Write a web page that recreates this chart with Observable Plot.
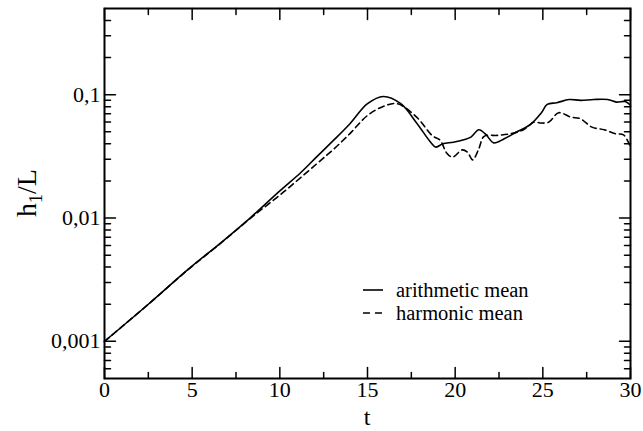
<!DOCTYPE html>
<html><head><meta charset="utf-8">
<script src="https://cdn.jsdelivr.net/npm/d3@7"></script>
<script src="https://cdn.jsdelivr.net/npm/@observablehq/plot@0.6"></script>
<style>body{margin:0;background:#fff} svg text{font-family:"Liberation Serif","Times New Roman",Tinos,"DejaVu Serif",serif !important;}</style>
</head><body><div id="chart"></div>
<script>
const seriesNames = ["arithmetic mean", "harmonic mean"];
const tArith = [0,2.5,4.8,6.6,8.3,10,11.2,12.1,13.1,14,15,15.9,16.9,17.8,18.6,18.9,19.3,19.9,20.5,20.9,21.35,21.75,22.2,22.8,23.5,24.3,24.9,25.25,25.8,26.5,27.15,27.9,28.7,29.2,29.7,30];
const vArith = [0.001,0.002,0.00387,0.00624,0.01,0.0166,0.0234,0.0313,0.0432,0.0582,0.0845,0.0968,0.0845,0.059,0.0412,0.0376,0.040,0.0412,0.0432,0.0453,0.052,0.0476,0.0407,0.044,0.0498,0.0574,0.0708,0.0834,0.0861,0.0914,0.090,0.0914,0.0914,0.0871,0.0881,0.0822];
const tHarm = [0,2.5,4.8,6.6,8.3,10.2,12.1,13.1,14,15,15.9,16.7,17.8,18.7,19.15,19.5,19.85,20.4,20.7,21,21.35,21.65,22.4,23.15,23.9,24.5,24.9,25.35,25.9,26.6,27.15,27.8,28.5,29.15,29.6,30];
const vHarm = [0.001,0.002,0.00385,0.0062,0.0099,0.0162,0.0275,0.0365,0.0484,0.0679,0.0804,0.0845,0.0658,0.0465,0.0426,0.0339,0.0312,0.0357,0.0342,0.0296,0.0365,0.0459,0.0468,0.0482,0.052,0.060,0.0589,0.060,0.0714,0.0658,0.0638,0.0546,0.052,0.0482,0.0473,0.0376];

const xTicks = [0,5,10,15,20,25,30];
const xMinorTicks = [2.5,7.5,12.5,17.5,22.5,27.5];
const yTicks = [0.001,0.01,0.1];
const yTickLabels = ["0,001","0,01","0,1"];
const yMinorTicks = [0.0006,0.0007,0.0008,0.0009,0.002,0.003,0.004,0.005,0.006,0.007,0.008,0.009,0.02,0.03,0.04,0.05,0.06,0.07,0.08,0.09,0.2,0.3,0.4];
const xDomain = [0,30];
const yDomain = [0.0005,0.5];

const arith = tArith.map((t,i)=>({t, v:vArith[i]}));
const harm = tHarm.map((t,i)=>({t, v:vHarm[i]}));

const line = {draw(ctx, l){ ctx.moveTo(0,0); ctx.lineTo(0,-l); }};
const tickStyle = {shape: line, anchor: "start", stroke: "black", strokeWidth: 1.5};
function yTickMarks(data, len){
  return [
    Plot.vector(data, {x: xDomain[0], y: d=>d, length: len, rotate: 90, ...tickStyle}),
    Plot.vector(data, {x: xDomain[1], y: d=>d, length: len, rotate: -90, ...tickStyle})
  ];
}
function xTickMarks(data, len){
  return [
    Plot.vector(data, {x: d=>d, y: yDomain[0], length: len, rotate: 0, ...tickStyle}),
    Plot.vector(data, {x: d=>d, y: yDomain[1], length: len, rotate: 180, ...tickStyle})
  ];
}

const font = '"Liberation Serif", "Times New Roman", Tinos, "DejaVu Serif", serif';
const plot = Plot.plot({
  width: 643, height: 431,
  marginLeft: 104, marginRight: 13, marginTop: 8, marginBottom: 53,
  style: {fontFamily: font, fontSize: "22px", background: "white", color: "black", overflow: "visible"},
  x: {domain: xDomain},
  y: {type: "log", domain: yDomain},
  marks: [
    Plot.axisX({ticks: xTicks, tickSize: 0, tickPadding: 3, label: null}),
    Plot.axisY({ticks: yTicks, tickSize: 0, tickPadding: 4, label: null, tickFormat: d => yTickLabels[yTicks.indexOf(d)]}),
    ...yTickMarks(yTicks, 11), ...yTickMarks(yMinorTicks, 6),
    ...xTickMarks(xTicks, 11), ...xTickMarks(xMinorTicks, 6),
    Plot.line(arith, {x: "t", y: "v", curve: "catmull-rom", stroke: "black", strokeWidth: 1.6}),
    Plot.line(harm, {x: "t", y: "v", curve: "catmull-rom", stroke: "black", strokeWidth: 1.6, strokeDasharray: "6,4"}),
    Plot.frame({stroke: "black", strokeWidth: 2})
  ]
});
document.getElementById("chart").appendChild(plot);

const svg = d3.select(plot);
// axis titles
svg.append("text").attr("x", 367).attr("y", 425).attr("text-anchor", "middle")
  .attr("font-size", 24).attr("fill", "black").text("t");
const yl = svg.append("text").attr("transform", "translate(36,193) rotate(-90)").attr("text-anchor", "middle")
  .attr("font-size", 28).attr("fill", "black");
yl.append("tspan").text("h");
yl.append("tspan").attr("font-size", 18).attr("dy", 6).text("1");
yl.append("tspan").attr("dy", -6).text("/L");
// legend
const lg = svg.append("g").attr("font-size", 20.5).attr("fill", "black").attr("text-anchor", "start");
[0,1].forEach(i => {
  const y = 290 + i*23;
  lg.append("line").attr("x1", 363).attr("x2", 383).attr("y1", y).attr("y2", y)
    .attr("stroke", "black").attr("stroke-width", 1.6).attr("stroke-dasharray", i ? "7,5" : null);
  lg.append("text").attr("x", 396).attr("y", y).attr("dy", "0.33em").text(seriesNames[i]);
});
</script>
</body></html>
